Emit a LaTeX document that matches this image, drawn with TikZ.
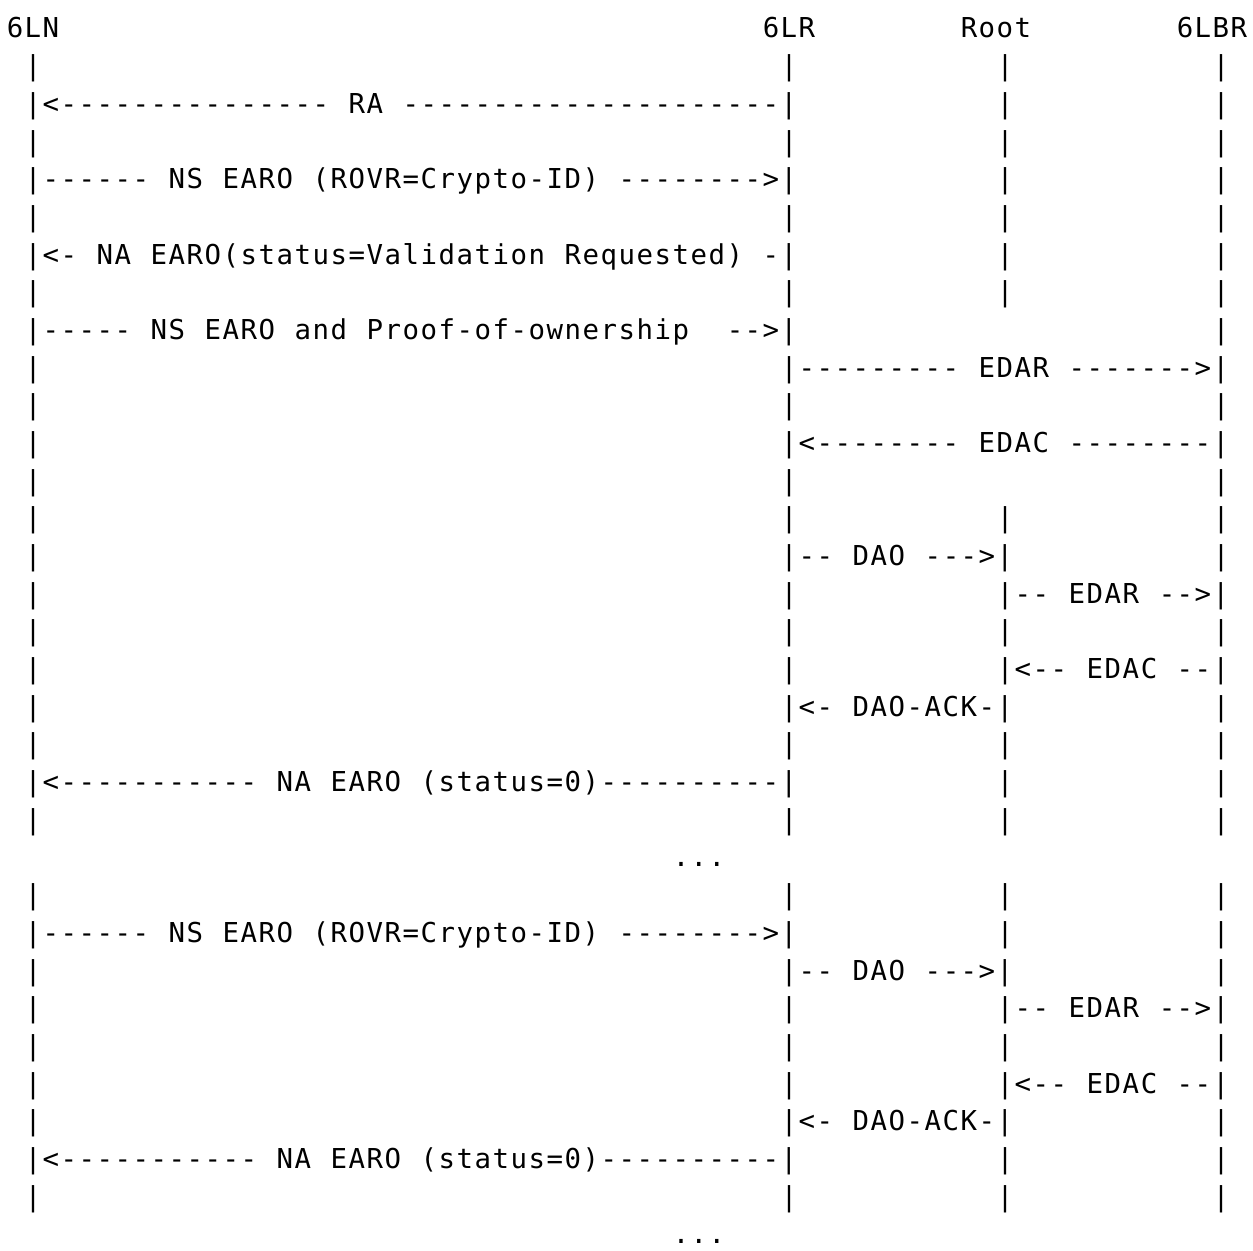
\documentclass[tikz,border=0pt]{standalone}
\usepackage{fontspec}
\newfontfamily\asciifont{DejaVu Sans Mono}
\ExplSyntaxOn
\NewDocumentCommand\gridtext{m}{\str_map_inline:nn{#1}{\makebox[9pt][c]{##1}}}
\ExplSyntaxOff
\tikzset{ascii/.style={anchor=base west, inner sep=0pt, outer sep=0pt,
  font=\asciifont\fontsize{13.7pt}{16pt}\selectfont, text=black}}
% row, column, text (one character per 18px grid cell)
\newcommand\seg[3]{\node[ascii] (n-#1-#2) at ({6+18*#2},{38+37.68*#1}) {\gridtext{#3}};}
\newcommand\vb[2]{\seg{#1}{#2}{|}}
\newcommand\allbars[1]{\vb{#1}{1}\vb{#1}{43}\vb{#1}{55}\vb{#1}{67}}
\begin{document}
\begin{tikzpicture}[x=0.5pt,y=-0.5pt]
\useasboundingbox (0,0) rectangle (1253,1251);
\seg{0}{0}{6LN}\seg{0}{42}{6LR}\seg{0}{53}{Root}\seg{0}{65}{6LBR}
\allbars{1}
\seg{2}{1}{|<--------------- RA ---------------------|}\vb{2}{55}\vb{2}{67}
\allbars{3}
\seg{4}{1}{|------ NS EARO (ROVR=Crypto-ID) -------->|}\vb{4}{55}\vb{4}{67}
\allbars{5}
\seg{6}{1}{|<- NA EARO(status=Validation Requested) -|}\vb{6}{55}\vb{6}{67}
\allbars{7}
\seg{8}{1}{|----- NS EARO and Proof-of-ownership}\seg{8}{40}{-->|}\vb{8}{67}
\vb{9}{1}\seg{9}{43}{|--------- EDAR ------->|}
\vb{10}{1}\vb{10}{43}\vb{10}{67}
\vb{11}{1}\seg{11}{43}{|<-------- EDAC --------|}
\vb{12}{1}\vb{12}{43}\vb{12}{67}
\allbars{13}
\vb{14}{1}\seg{14}{43}{|-- DAO --->|}\vb{14}{67}
\vb{15}{1}\vb{15}{43}\seg{15}{55}{|-- EDAR -->|}
\allbars{16}
\vb{17}{1}\vb{17}{43}\seg{17}{55}{|<-- EDAC --|}
\vb{18}{1}\seg{18}{43}{|<- DAO-ACK-|}\vb{18}{67}
\allbars{19}
\seg{20}{1}{|<----------- NA EARO (status=0)----------|}\vb{20}{55}\vb{20}{67}
\allbars{21}
\seg{22}{37}{...}
\allbars{23}
\seg{24}{1}{|------ NS EARO (ROVR=Crypto-ID) -------->|}\vb{24}{55}\vb{24}{67}
\vb{25}{1}\seg{25}{43}{|-- DAO --->|}\vb{25}{67}
\vb{26}{1}\vb{26}{43}\seg{26}{55}{|-- EDAR -->|}
\allbars{27}
\vb{28}{1}\vb{28}{43}\seg{28}{55}{|<-- EDAC --|}
\vb{29}{1}\seg{29}{43}{|<- DAO-ACK-|}\vb{29}{67}
\seg{30}{1}{|<----------- NA EARO (status=0)----------|}\vb{30}{55}\vb{30}{67}
\allbars{31}
\seg{32}{37}{...}
\end{tikzpicture}
\end{document}
